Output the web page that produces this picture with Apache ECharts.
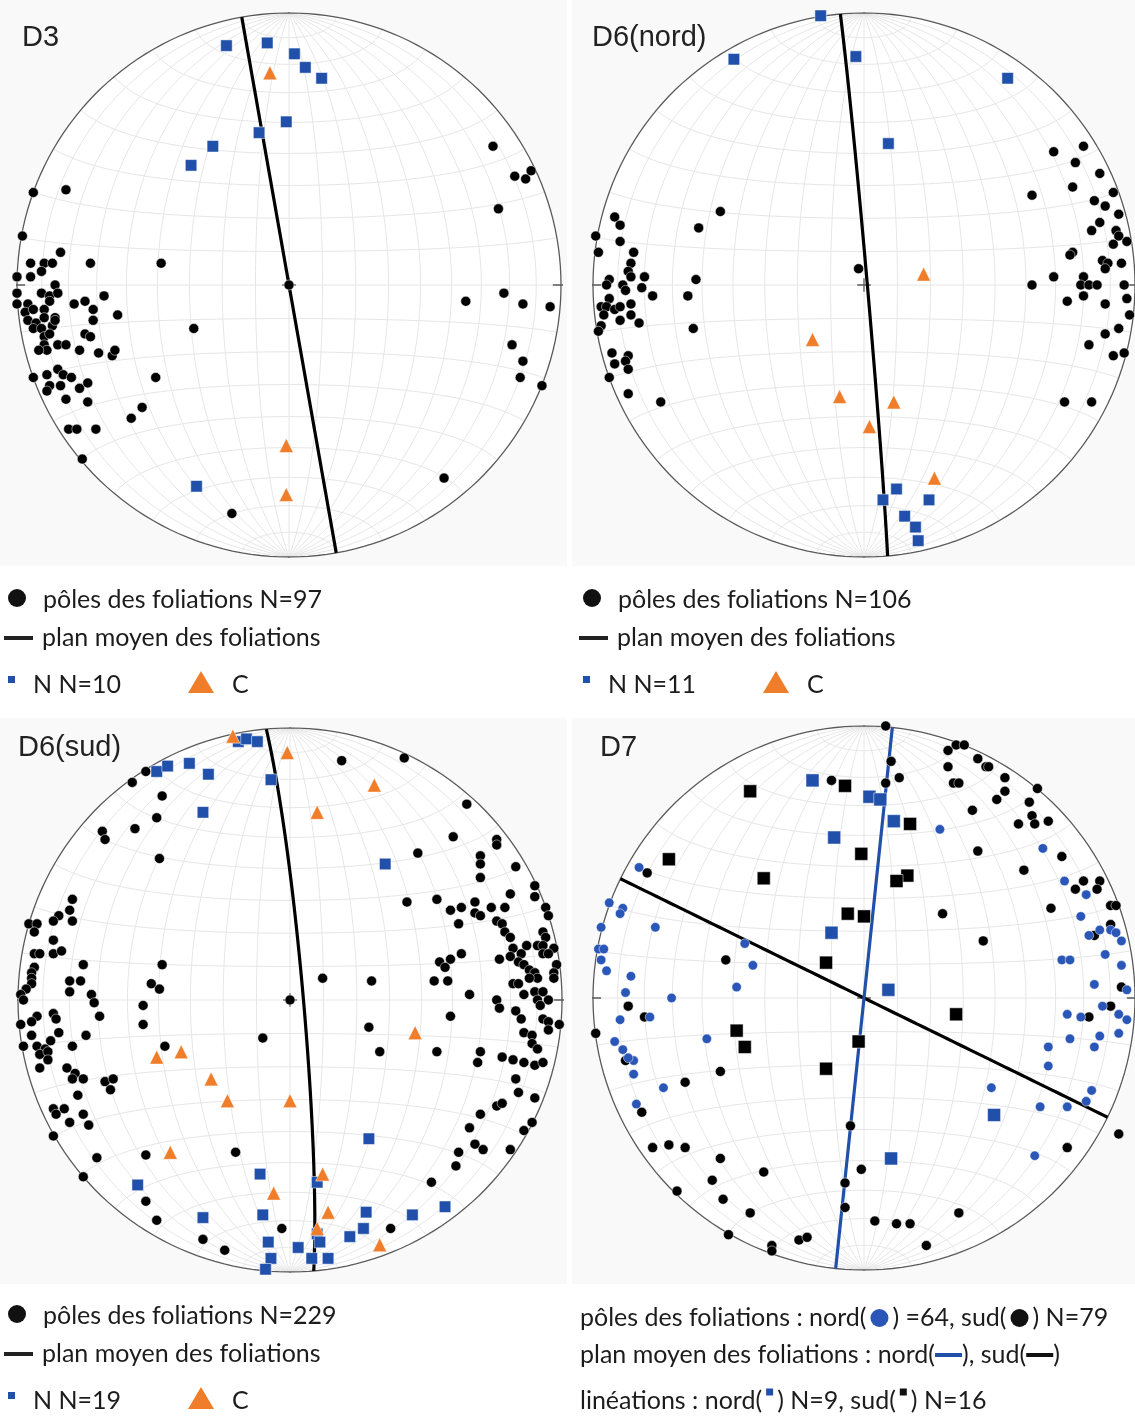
<!DOCTYPE html>
<html>
<head>
<meta charset="utf-8">
<script src="https://cdn.jsdelivr.net/npm/echarts@6/dist/echarts.min.js"></script>
<style>
  html, body { margin: 0; padding: 0; background: #fff; }
  #chart { width: 1135px; height: 1418px; }
</style>
</head>
<body>
<div id="chart"></div>
<script>
// net coordinates: primitive circle radius = 100, x east, y north

// ---- D3 ----
const d3Poles = [[75,51],[83,40],[87,39],[89,42],[77,28],[-94,34],[-82,35],[-98,18],[-84,12],[-95,8],[-90,8],[-87,8],[-73,8],[-47,8],[-100,3],[-95,3],[-91,5],[-86,0],[0,0],[79,-3],
  [-100,-3],[-91,-3],[-88,-4],[-85,-3],[-68,-4],[-100,-7],[-96,-7],[-88,-6],[-79,-7],[-75,-6],[-97,-10],[-94,-9],[-90,-9],[-72,-9],[-63,-11],[-72,-13],[-96,-13],[-93,-14],[-90,-12],[-86,-12],
  [-94,-16],[-91,-16],[-87,-15],[-86,-13],[-35,-16],[-90,-19],[-88,-18],[-75,-18],[-73,-19],[-90,-22],[-85,-22],[-82,-22],[-89,-24],[-92,-24],[-77,-24],[-70,-25],[-65,-26],[-64,-24],
  [-85,-31],[-94,-34],[-89,-33],[-83,-33],[-80,-34],[-74,-36],[-88,-37],[-84,-37],[-77,-38],[-89,-39],[-82,-42],[-74,-43],[-49,-34],[-54,-45],[-58,-49],[-81,-53],[-78,-53],[-71,-53],
  [-76,-64],[-21,-84],[57,-71],[65,-6],[86,-7],[96,-8],[82,-22],[86,-28],[85,-34],[93,-37]];
const d3Lin = [[-23,88],[-8,89],[2,85],[6,80],[12,76],[-1,60],[-11,56],[-28,51],[-36,44],[-34,-74]];
const d3C = [[-7,78],[-1,-59],[-1,-77]];
const d3Plane = [350, 90]; // strike, dip

// ---- D6 (nord) ----
const d6nPoles = [[-92,25],[-90,22],[-99,18],[-90,16],[-98,12],[-85,12],[-86,8],[-87,5],[-86,3],[-81,3],[-94,2],[-95,0],[-89,0],[-82,-1],[-62,2],[-61,21],[-53,27],[-2,6],
  [70,49],[81,51],[78,45],[87,41],[77,36],[62,33],[92,34],[85,31],[89,29],[94,26],[87,23],[84,20],[93,20],[94,18],[97,16],[92,15],[77,12],[76,11],[88,9],[90,8],[95,8],[89,6],
  [70,3],[81,3],[62,0],[80,0],[83,0],[86,0],[96,0],
  [-88,-2],[-78,-4],[-65,-4],[-94,-5],[-86,-7],[-97,-8],[-95,-8],[-92,-9],[-90,-8],[-96,-11],[-86,-11],[-90,-13],[-83,-14],[-97,-15],[-98,-17],[-63,-16],[-93,-25],[-87,-26],
  [-88,-28],[-92,-29],[-87,-31],[-94,-34],[-87,-40],[-75,-43],
  [75,-6],[81,-4],[89,-7],[97,-5],[98,-11],[94,-16],[89,-18],[83,-22],[92,-26],[96,-25],[74,-43],[84,-43]];
const d6nLin = [[-16,99],[-48,83],[-3,84],[53,76],[9,52],[12,-75],[7,-79],[24,-79],[15,-85],[19,-89],[20,-94]];
const d6nC = [[22,4],[-19,-20],[-9,-41],[11,-43],[2,-52],[26,-71]];
const d6nPlane = [355, 89];

// ---- D6 (sud) ----
const d6sPoles = [[19,88],[42,89],[65,72],[-53,84],[-58,80],[-47,75],[-49,67],[-57,63],[-69,62],[-68,59],[-48,52],[60,60],[76,59],[76,57],[47,54],[70,53],[70,50],[83,49],[70,45],
  [90,42],[81,39],[90,38],[43,36],[54,37],[59,33],[63,34],[68,36],[74,34],[79,34],[68,32],[70,31],[94,34],[95,31],[62,28],[76,29],[78,28],[79,25],[81,23],[93,25],[94,23],
  [91,20],[87,20],[93,20],[82,19],[97,19],[93,17],[95,17],[85,17],[81,16],[84,14],[77,15],[63,17],[59,15],[55,14],[57,12],[86,13],[88,11],[98,13],[97,10],[90,10],[91,8],
  [88,8],[97,8],[82,6],[84,6],[58,7],[53,7],[30,7],[12,8],[66,2],[76,0],[86,2],[90,3],[93,3],[95,0],[0,0],
  [-80,37],[-81,33],[-85,31],[-80,29],[-87,29],[-96,28],[-93,28],[-94,25],[-87,22],[-87,17],[-84,18],[-94,17],[-92,17],[-76,13],[-47,13],[-94,12],[-95,10],[-95,8],[-95,6],
  [-81,7],[-77,7],[-81,3],[-51,6],[-48,4],[-97,4],[-99,2],[-73,2],[-98,0],
  [-72,-1],[-54,-2],[-93,-6],[-87,-5],[-86,-7],[-99,-9],[-95,-8],[-70,-6],[-54,-9],[-85,-12],[-95,-13],[-88,-15],[-75,-13],[-98,-17],[-93,-17],[-90,-18],[-92,-20],[-89,-19],
  [-80,-17],[-89,-22],[-92,-25],[-82,-25],[-79,-27],[-80,-29],[-76,-29],[-68,-30],[-65,-29],[-66,-33],[-78,-35],[-87,-40],[-83,-40],[-86,-42],[-76,-42],[-81,-45],[-74,-46],
  [-87,-50],[-71,-58],[-76,-65],[-53,-57],[-46,-17],[-20,-56],[-10,-14],[-53,-74],[-49,-81],[-32,-88],[-24,-92],[-3,-84],
  [29,-10],[33,-19],[59,-6],[54,-19],[77,-3],[83,-4],[85,-7],[91,0],[92,-2],[93,-7],[95,-8],[99,-9],[86,-12],[89,-13],[95,-11],[89,-16],[91,-18],[70,-19],[69,-23],[78,-21],
  [82,-22],[86,-23],[90,-24],[93,-23],[83,-29],[84,-34],[90,-36],[76,-39],[78,-38],[70,-42],[66,-47],[86,-48],[89,-45],[68,-53],[71,-55],[81,-55],[62,-56],[61,-61],[52,-67],[37,-84]];
const d6sLin = [[-19,95],[-16,96],[-12,95],[-49,84],[-45,86],[-37,87],[-30,83],[-7,81],[-32,69],[35,50],[29,-51],[-11,-64],[10,-67],[-56,-68],[-10,-79],[-32,-80],[28,-78],
  [45,-79],[57,-76],[27,-84],[22,-87],[10,-86],[11,-89],[-8,-89],[3,-91],[-7,-95],[8,-95],[14,-95],[-9,-99]];
const d6sC = [[-21,97],[-1,91],[31,79],[10,69],[46,-12],[-49,-21],[-40,-19],[-29,-29],[-23,-37],[0,-37],[-44,-56],[12,-64],[-6,-71],[14,-78],[10,-84],[33,-90]];
const d6sPlane = [355, 86];

// ---- D7 ----
const d7PolesSud = [[8,100],[10,87],[13,81],[8,79],[-12,80],[34,93],[37,93],[31,91],[42,88],[31,85],[45,85],[46,85],[52,81],[33,79],[35,79],[64,77],[52,76],[49,73],[40,69],
  [61,72],[62,67],[57,64],[63,64],[68,65],[42,54],[73,52],[59,47],[81,43],[87,43],[78,40],[86,40],[69,33],[29,31],[91,34],[93,34],[91,27],[85,23],[44,21],[-80,46],[-51,14],[95,4],
  [-87,-3],[91,-3],[83,-7],[-81,-7],[-99,-13],[-88,-23],[-53,-27],[-66,-31],[-82,-42],[-5,-47],[-78,-55],[-72,-54],[-66,-55],[-53,-59],[-37,-64],[-56,-67],[-69,-71],[-52,-74],
  [-42,-79],[-50,-87],[-34,-91],[-34,-93],[-24,-89],[-21,-88],[-1,-63],[-7,-68],[-7,-77],[4,-82],[12,-83],[17,-83],[35,-79],[23,-91],[75,-55],[94,-50]];
const d7PolesNord = [[28,62],[66,55],[74,43],[82,38],[80,30],[87,25],[83,23],[91,25],[93,24],[95,21],[89,16],[73,14],[76,14],[95,12],[85,5],[97,3],[-83,48],[-94,35],[-89,33],
  [-90,31],[-97,26],[-77,26],[-98,18],[-96,18],[-97,14],[-95,10],[-86,8],[-88,2],[-71,0],[-44,20],[-41,12],[-47,4],
  [88,-3],[94,-6],[97,-8],[75,-6],[80,-7],[76,-15],[87,-14],[94,-13],[85,-18],[68,-18],[68,-25],[47,-33],[84,-34],[82,-38],[65,-40],[75,-40],[63,-58],[-90,-8],[-79,-7],
  [-58,-15],[-92,-16],[-89,-19],[-85,-23],[-87,-22],[-85,-28],[-74,-33],[-84,-39]];
const d7LinNord = [[-19,80],[2,74],[6,73],[11,65],[-11,59],[-12,24],[9,3],[48,-43],[10,-59]];
const d7LinSud = [[-42,76],[-7,78],[17,64],[-72,51],[-1,53],[-37,44],[16,45],[12,43],[-6,31],[0,30],[-14,13],[34,-6],[-47,-12],[-44,-18],[-2,-16],[-14,-26]];
const d7PlaneNord = [6, 90];
const d7PlaneSud = [296, 90];

const BLUE = '#2150aa';
const ORANGE = '#f07d2a';
const R = 272;
const panels = [
  { cx: 289, cy: 285, label: 'D3', lx: 22, ly: 38 },
  { cx: 865, cy: 285, label: 'D6(nord)', lx: 592, ly: 38 },
  { cx: 290, cy: 1000, label: 'D6(sud)', lx: 18, ly: 748 },
  { cx: 865, cy: 998, label: 'D7', lx: 600, ly: 748 }
];

const rad = Math.PI / 180;
// lower hemisphere, equal-area (Schmidt) projection
function proj(v) {
  const f = 100 / Math.sqrt(1 - v[2]);
  return [v[0] * f, v[1] * f];
}
function sph(lam, phi) {
  const l = lam * rad, p = phi * rad;
  return [Math.cos(p) * Math.sin(l), Math.sin(p), -Math.cos(p) * Math.cos(l)];
}
function netCurves() {
  const out = [];
  for (let l = -80; l <= 80; l += 10) {
    const c = [];
    for (let p = -90; p <= 90; p += 2) c.push(proj(sph(l, p)));
    out.push({ coords: c });
  }
  for (let p = -80; p <= 80; p += 10) {
    const c = [];
    for (let l = -90; l <= 90; l += 2) c.push(proj(sph(l, p)));
    out.push({ coords: c });
  }
  return out;
}
function primitive() {
  const c = [];
  for (let a = 0; a <= 360; a += 2) c.push([100 * Math.cos(a * rad), 100 * Math.sin(a * rad)]);
  return [{ coords: c }];
}
function ticks() {
  return [
    { coords: [[0, 100], [0, 104]] }, { coords: [[0, -100], [0, -104]] },
    { coords: [[-97, 0], [-103, 0]] }, { coords: [[97, 0], [103, 0]] },
    { coords: [[-2.5, 0], [2.5, 0]] }, { coords: [[0, -2.5], [0, 2.5]] }
  ];
}
function planeCurve(p) {
  const s = p[0] * rad, d = p[1] * rad, dd = s + Math.PI / 2;
  const a = [Math.sin(s), Math.cos(s), 0];
  const b = [Math.sin(dd) * Math.cos(d), Math.cos(dd) * Math.cos(d), -Math.sin(d)];
  const pts = [];
  for (let t = 0; t <= 180; t += 2) {
    const ct = Math.cos(t * rad), st = Math.sin(t * rad);
    pts.push(proj([a[0] * ct + b[0] * st, a[1] * ct + b[1] * st, a[2] * ct + b[2] * st]));
  }
  return pts;
}

const grids = [], xAxes = [], yAxes = [], series = [];
panels.forEach((p, i) => {
  grids.push({ left: p.cx - R, top: p.cy - R, width: 2 * R, height: 2 * R });
  xAxes.push({ gridIndex: i, type: 'value', min: -100, max: 100, show: false });
  yAxes.push({ gridIndex: i, type: 'value', min: -100, max: 100, show: false });
  series.push({
    type: 'lines', coordinateSystem: 'cartesian2d', xAxisIndex: i, yAxisIndex: i, polyline: true, silent: true,
    lineStyle: { color: '#e6e6e6', width: 1, opacity: 1 }, data: netCurves(), z: 1
  });
  series.push({
    type: 'lines', coordinateSystem: 'cartesian2d', xAxisIndex: i, yAxisIndex: i, polyline: true, silent: true,
    lineStyle: { color: '#5a5a5a', width: 1.3, opacity: 1 }, data: primitive().concat(ticks()), z: 2
  });
});

function plane(i, p, color) {
  series.push({
    type: 'line', xAxisIndex: i, yAxisIndex: i, data: planeCurve(p), showSymbol: false, silent: true,
    lineStyle: { color: color, width: 3.2 }, z: 3
  });
}
function pts(i, data, symbol, size, color, z) {
  series.push({
    type: 'scatter', xAxisIndex: i, yAxisIndex: i, data: data, symbol: symbol, symbolSize: size,
    itemStyle: { color: color, opacity: 1, borderColor: '#ffffff', borderWidth: 0.5 }, z: z || 4
  });
}

plane(0, d3Plane, '#000');
pts(0, d3Poles, 'circle', 10, '#000');
pts(0, d3Lin, 'rect', 11.5, BLUE);
pts(0, d3C, 'triangle', 14, ORANGE);

plane(1, d6nPlane, '#000');
pts(1, d6nPoles, 'circle', 10, '#000');
pts(1, d6nLin, 'rect', 11.5, BLUE);
pts(1, d6nC, 'triangle', 14, ORANGE);

plane(2, d6sPlane, '#000');
pts(2, d6sPoles, 'circle', 10, '#000');
pts(2, d6sLin, 'rect', 11.5, BLUE);
pts(2, d6sC, 'triangle', 14, ORANGE);

plane(3, d7PlaneSud, '#000');
plane(3, d7PlaneNord, BLUE);
pts(3, d7PolesSud, 'circle', 10, '#000');
pts(3, d7PolesNord, 'circle', 9.5, '#2a56b8');
pts(3, d7LinNord, 'rect', 13, BLUE, 5);
pts(3, d7LinSud, 'rect', 13, '#000', 5);

// panel backgrounds and legends
const TXT = '25px Lato';
const INK = '#1c1c1c';
const graphics = [];
[[0, 0, 567, 566], [572, 0, 563, 566], [0, 718, 567, 566], [572, 718, 563, 566]].forEach(r => {
  graphics.push({ type: 'rect', shape: { x: r[0], y: r[1], width: r[2], height: r[3] }, style: { fill: '#f9f9f9' }, z: -10, silent: true });
});
panels.forEach(p => {
  graphics.push({ type: 'circle', shape: { cx: p.cx, cy: p.cy, r: R }, style: { fill: '#ffffff' }, z: -9, silent: true });
});
panels.forEach(p => {
  graphics.push({
    type: 'text', x: p.lx, y: p.ly, z: 10,
    style: { text: p.label, font: '29px "Liberation Sans"', fill: '#222', verticalAlign: 'middle' }
  });
});

function simpleLegend(dx, dy, n, nLin) {
  graphics.push(
    { type: 'circle', shape: { cx: dx + 17, cy: dy + 598, r: 9 }, style: { fill: '#111' } },
    { type: 'text', x: dx + 43, y: dy + 600, style: { text: 'pôles des foliations N=' + n, font: TXT, fill: INK, verticalAlign: 'middle' } },
    { type: 'rect', shape: { x: dx + 4, y: dy + 636, width: 29, height: 4 }, style: { fill: '#222' } },
    { type: 'text', x: dx + 42, y: dy + 638, style: { text: 'plan moyen des foliations', font: TXT, fill: INK, verticalAlign: 'middle' } },
    { type: 'rect', shape: { x: dx + 8, y: dy + 676, width: 7, height: 7 }, style: { fill: BLUE } },
    { type: 'text', x: dx + 33, y: dy + 685, style: { text: 'N N=' + nLin, font: TXT, fill: INK, verticalAlign: 'middle' } },
    { type: 'polygon', shape: { points: [[dx + 201, dy + 671], [dx + 214, dy + 693], [dx + 188, dy + 693]] }, style: { fill: ORANGE } },
    { type: 'text', x: dx + 232, y: dy + 685, style: { text: 'C', font: TXT, fill: INK, verticalAlign: 'middle' } }
  );
}
simpleLegend(0, 0, 97, 10);
simpleLegend(575, 0, 106, 11);
simpleLegend(0, 716, 229, 19);

const richD7 = {
  bc: { width: 18, height: 18, backgroundColor: '#2a56b8', borderRadius: 9 },
  kc: { width: 18, height: 18, backgroundColor: '#111', borderRadius: 9 },
  bl: { width: 27, height: 4, backgroundColor: BLUE },
  kl: { width: 27, height: 4, backgroundColor: '#111' },
  bs: { width: 7, height: 7, backgroundColor: BLUE, verticalAlign: 'top' },
  ks: { width: 7, height: 7, backgroundColor: '#111', verticalAlign: 'top' },
  sp: { width: 4 }
};
graphics.push(
  { type: 'text', x: 580, y: 1318, style: { text: 'pôles des foliations : nord({sp|}{bc|}{sp|}) =64, sud({sp|}{kc|}{sp|}) N=79', rich: richD7, font: TXT, fill: INK, verticalAlign: 'middle' } },
  { type: 'text', x: 580, y: 1355, style: { text: 'plan moyen des foliations : nord({bl|}), sud({kl|})', rich: richD7, font: TXT, fill: INK, verticalAlign: 'middle' } },
  { type: 'text', x: 580, y: 1401, style: { text: 'linéations : nord({sp|}{bs|}{sp|}) N=9, sud({sp|}{ks|}{sp|}) N=16', rich: richD7, font: TXT, fill: INK, verticalAlign: 'middle' } }
);

const chart = echarts.init(document.getElementById('chart'), null, { renderer: 'canvas' });
chart.setOption({
  backgroundColor: '#ffffff',
  animation: false,
  grid: grids,
  xAxis: xAxes,
  yAxis: yAxes,
  series: series,
  graphic: graphics
});
</script>
</body>
</html>
